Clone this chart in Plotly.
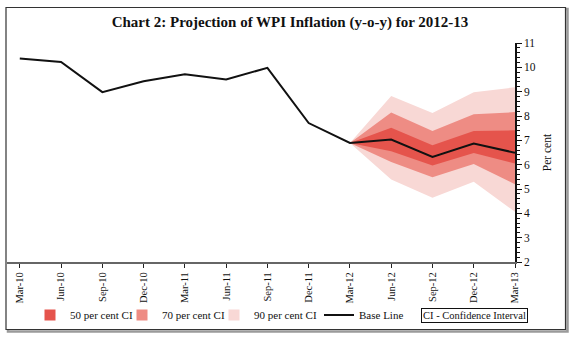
import plotly.graph_objects as go

# ---------------- data ----------------
quarters = ["Mar-10", "Jun-10", "Sep-10", "Dec-10", "Mar-11", "Jun-11", "Sep-11",
            "Dec-11", "Mar-12", "Jun-12", "Sep-12", "Dec-12", "Mar-13"]
base_line = [10.36, 10.22, 8.98, 9.43, 9.72, 9.50, 9.98, 7.71, 6.89, 7.03, 6.32, 6.87, 6.49]

fan_quarters = ["Mar-12", "Jun-12", "Sep-12", "Dec-12", "Mar-13"]
ci50_upper = [6.89, 7.52, 6.80, 7.38, 7.41]
ci50_lower = [6.89, 6.55, 5.97, 6.48, 6.05]
ci70_upper = [6.89, 8.14, 7.38, 8.07, 8.16]
ci70_lower = [6.89, 6.11, 5.48, 6.03, 5.20]
ci90_upper = [6.89, 8.82, 8.12, 8.98, 9.18]
ci90_lower = [6.89, 5.39, 4.64, 5.30, 4.06]

y_ticks = [2, 3, 4, 5, 6, 7, 8, 9, 10, 11]

# ---------------- style ----------------
C50 = "#E5544C"
C70 = "#EE8C84"
C90 = "#F8D8D5"
FONT = "Liberation Serif, Times New Roman, serif"

x_all = list(range(len(quarters)))
x_fan = [quarters.index(q) for q in fan_quarters]

fig = go.Figure()


def band(upper, lower, color):
    xs = x_fan + x_fan[::-1]
    ys = upper + lower[::-1]
    return go.Scatter(x=xs, y=ys, fill="toself", fillcolor=color, mode="lines",
                      line=dict(width=0, color=color), showlegend=False,
                      hoverinfo="skip")


fig.add_trace(band(ci90_upper, ci90_lower, C90))
fig.add_trace(band(ci70_upper, ci70_lower, C70))
fig.add_trace(band(ci50_upper, ci50_lower, C50))

fig.add_trace(go.Scatter(x=x_all, y=base_line, mode="lines",
                         line=dict(color="#111111", width=2),
                         name="Base Line", legend="legend4"))

# legend-only square swatches
for name, col, lg in [("50 per cent CI", C50, "legend"),
                      ("70 per cent CI", C70, "legend2"),
                      ("90 per cent CI", C90, "legend3")]:
    fig.add_trace(go.Scatter(x=[None], y=[None], mode="markers", name=name,
                             marker=dict(symbol="square", size=11, color=col,
                                         line=dict(width=0)),
                             legend=lg))

# layout geometry (px)
L, R, T, B = 7, 61, 43, 78
W, H = 576, 340
pw = W - L - R
ph = H - T - B


def px_x(p):
    return (p - L) / pw


def px_y(p):
    return (H - B - p) / ph


leg_y = px_y(315)
leg_common = dict(orientation="h", yanchor="middle", y=leg_y, xanchor="left",
                  bgcolor="rgba(0,0,0,0)", borderwidth=0,
                  font=dict(family=FONT, size=11, color="#111"))

fig.update_layout(
    width=W, height=H,
    margin=dict(l=L, r=R, t=T, b=B, autoexpand=False),
    paper_bgcolor="white", plot_bgcolor="white",
    title=dict(text="<b>Chart 2: Projection of WPI Inflation (y-o-y) for 2012-13</b>",
               x=290 / W, xanchor="center", xref="container",
               y=1 - 22 / H, yanchor="middle",
               font=dict(family=FONT, size=15, color="#111")),
    xaxis=dict(range=[-0.31, 12], tickmode="array", tickvals=x_all, ticktext=quarters,
               tickangle=-90, ticks="outside", ticklen=4, tickcolor="#222",
               showline=True, linecolor="#666", linewidth=2, showgrid=False,
               zeroline=False, tickfont=dict(family=FONT, size=10.5, color="#111")),
    yaxis=dict(range=[2, 11], side="right", tickmode="array", tickvals=y_ticks,
               ticks="outside", ticklen=5, tickcolor="#111", tickwidth=1,
               minor=dict(dtick=0.2, ticks="outside", ticklen=3, tickcolor="#111"),
               showline=True, linecolor="#111", linewidth=1.5, showgrid=False,
               zeroline=False, tickfont=dict(family=FONT, size=11.5, color="#111"),
               title=dict(text="Per cent", standoff=8,
                          font=dict(family=FONT, size=11.5, color="#111"))),
    legend=dict(x=px_x(30), **leg_common),
    legend2=dict(x=px_x(122), **leg_common),
    legend3=dict(x=px_x(214), **leg_common),
    legend4=dict(x=px_x(319), **leg_common),
    showlegend=True,
)

# CI note box
fig.add_annotation(text="CI - Confidence Interval", xref="paper", yref="paper",
                   x=px_x(474), y=leg_y, xanchor="center", yanchor="middle",
                   showarrow=False, bordercolor="#111", borderwidth=1, borderpad=1,
                   bgcolor="white", font=dict(family=FONT, size=10.5, color="#111"))

# outer frame with shadow
fig.add_shape(type="rect", xref="paper", yref="paper",
              x0=px_x(8), x1=px_x(567.5), y0=px_y(331.5), y1=px_y(9),
              line=dict(color="#9a9a9a", width=2.5), layer="below")
fig.add_shape(type="rect", xref="paper", yref="paper",
              x0=px_x(6), x1=px_x(565.5), y0=px_y(329.5), y1=px_y(7.5),
              line=dict(color="#333", width=1.2), fillcolor="white", layer="below")

fig.write_html("out.html")
